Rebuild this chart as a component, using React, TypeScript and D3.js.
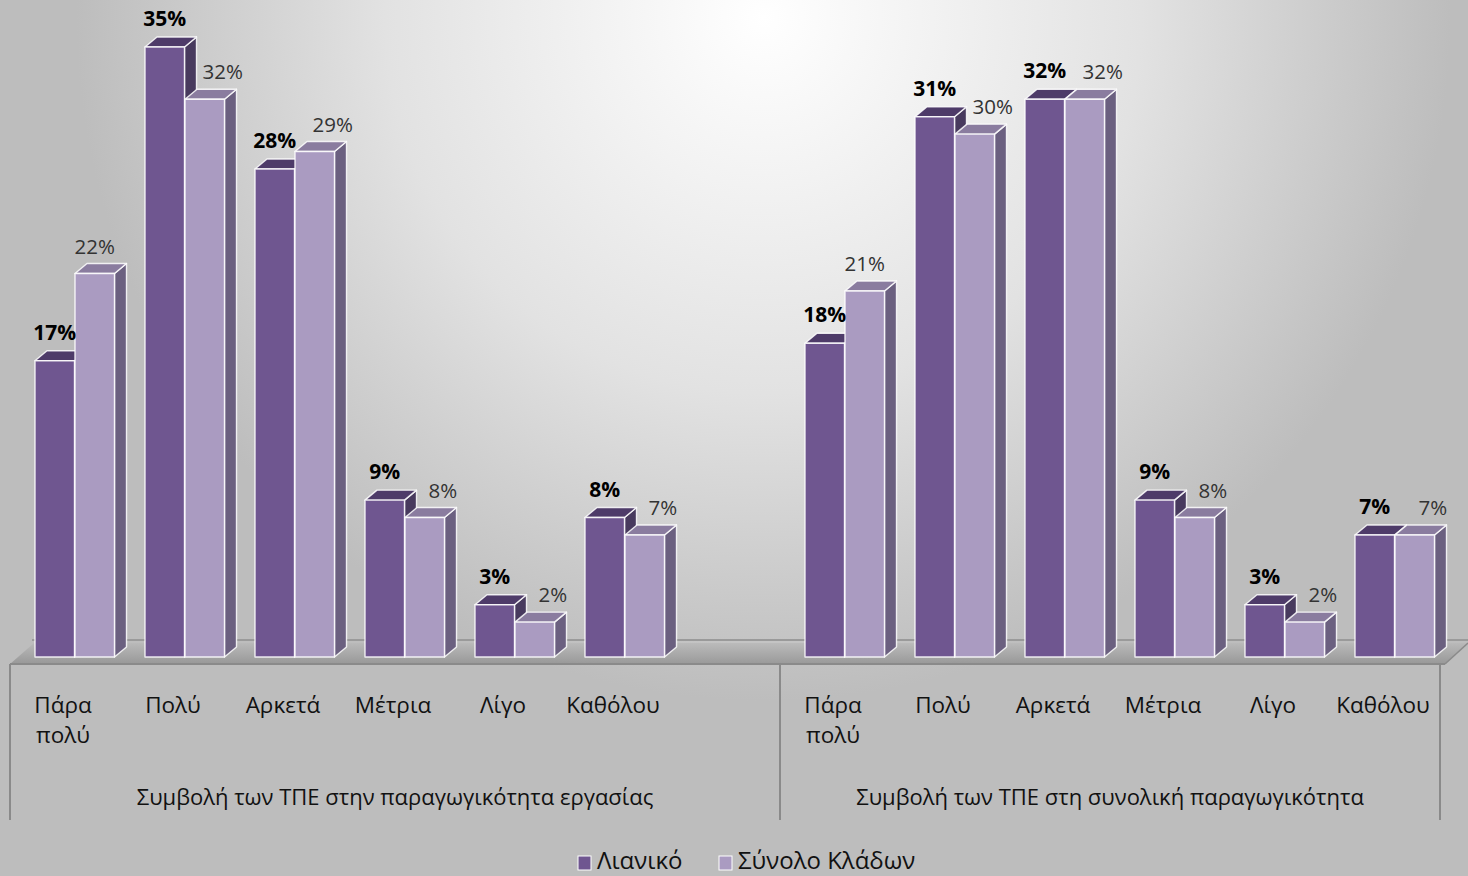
import React from 'react';
import * as d3 from 'd3';

// categories (same six answers in both groups)
const categories = ['Πάρα πολύ', 'Πολύ', 'Αρκετά', 'Μέτρια', 'Λίγο', 'Καθόλου'];
const groups = [
  'Συμβολή των ΤΠΕ στην παραγωγικότητα εργασίας',
  'Συμβολή των ΤΠΕ στη συνολική παραγωγικότητα',
];
const seriesNames = ['Λιανικό', 'Σύνολο Κλάδων'];

// values in %, group 1 then group 2
const lianiko = [
  [17, 35, 28, 9, 3, 8],
  [18, 31, 32, 9, 3, 7],
];
const synolo = [
  [22, 32, 29, 8, 2, 7],
  [21, 30, 32, 8, 2, 7],
];

const W = 1468;
const H = 876;
const base = 657;
const DX = 12;
const DY = 10;

const palette = [
  { front: '#6f5690', top: '#4e3b69', side: '#483a5e' },
  { front: '#aa9bc1', top: '#8a7c9f', side: '#6b6080' },
];

// 13 slots: 6 + empty + 6
const slotKeys = [
  ...categories.map((c, i) => `a${i}`),
  'gap',
  ...categories.map((c, i) => `b${i}`),
];

const App = () => {
  const x = d3.scaleBand<string>().domain(slotKeys).range([10, 1440]).padding(0);
  const y = d3.scaleLinear().domain([0, 35]).range([base, 47]);
  const bw = 39.5;

  const bar3d = (x0: number, v: number, c: typeof palette[0], key: string) => {
    const t = y(v);
    const top = `${x0},${t} ${x0 + DX},${t - DY} ${x0 + bw + DX},${t - DY} ${x0 + bw},${t}`;
    const side = `${x0 + bw},${t} ${x0 + bw + DX},${t - DY} ${x0 + bw + DX},${base - DY} ${x0 + bw},${base}`;
    return (
      <g key={key} stroke="rgba(255,255,255,0.85)" strokeWidth={1.4} strokeLinejoin="round">
        <polygon points={side} fill={c.side} />
        <polygon points={top} fill={c.top} />
        <rect x={x0} y={t} width={bw} height={base - t} fill={c.front} />
      </g>
    );
  };

  const groupSpan = (g: number) => {
    const first = x(g === 0 ? 'a0' : 'b0')!;
    const last = g === 0 ? x('gap')! + x.bandwidth() : x('b5')! + x.bandwidth();
    return [first, last];
  };

  const font = "'Open Sans', 'Noto Sans', sans-serif";

  return (
    <div style={{ position: 'absolute', left: 0, top: 0, width: W, height: H }}>
      <style>{`body{margin:0}`}</style>
      <svg width={W} height={H} style={{ display: 'block', fontFamily: font }}>
        <defs>
          <radialGradient id="bg" cx="0.52" cy="0.02" r="0.78" gradientUnits="objectBoundingBox"
            gradientTransform="translate(0.52,0.02) scale(0.6,1) translate(-0.52,-0.02)">
            <stop offset="0%" stopColor="#ffffff" />
            <stop offset="55%" stopColor="#e2e2e2" />
            <stop offset="100%" stopColor="#bdbdbd" />
          </radialGradient>
          <linearGradient id="floor" x1="0" y1="0" x2="0" y2="1">
            <stop offset="0%" stopColor="#b8b8b8" />
            <stop offset="100%" stopColor="#8c8c8c" />
          </linearGradient>
        </defs>
        <rect width={W} height={H} fill="url(#bg)" />

        {/* back wall base line and floor */}
        <line x1={32} x2={W} y1={640} y2={640} stroke="#9a9a9a" strokeWidth={2} />
        <polygon points={`10,664 34,643 ${W},643 1445,664`} fill="url(#floor)" opacity={0.75} />
        <line x1={10} x2={1445} y1={664} y2={664} stroke="#8a8a8a" strokeWidth={2} />
        <line x1={1445} x2={W} y1={664} y2={643} stroke="#8a8a8a" strokeWidth={1.5} />

        {/* category box lines */}
        {[10, x('gap')! + x.bandwidth(), 1440].map((lx, i) => (
          <line key={i} x1={lx} x2={lx} y1={664} y2={820} stroke="#8a8a8a" strokeWidth={2} />
        ))}

        {/* bars */}
        {[0, 1].map(g =>
          categories.map((c, i) => {
            const x0 = x(`${g === 0 ? 'a' : 'b'}${i}`)! + 25;
            return (
              <g key={`${g}-${i}`}>
                {bar3d(x0, lianiko[g][i], palette[0], 'l')}
                {bar3d(x0 + 40, synolo[g][i], palette[1], 's')}
              </g>
            );
          })
        )}

        {/* value labels */}
        {[0, 1].map(g =>
          categories.map((c, i) => {
            const x0 = x(`${g === 0 ? 'a' : 'b'}${i}`)! + 25;
            const lv = lianiko[g][i];
            const sv = synolo[g][i];
            const shift = sv <= lv + 1 ? 18 : 0;
            return (
              <g key={`lab-${g}-${i}`}>
                <text x={x0 + bw / 2} y={y(lv) - 21} textAnchor="middle"
                  fontSize={21} fontWeight={700} fill="#000">{lv}%</text>
                <text x={x0 + 40 + bw / 2 + shift} y={y(sv) - 20} textAnchor="middle"
                  fontSize={20.5} fill="#333">{sv}%</text>
              </g>
            );
          })
        )}

        {/* category labels */}
        {[0, 1].map(g =>
          categories.map((c, i) => {
            const cx = x(`${g === 0 ? 'a' : 'b'}${i}`)! + x.bandwidth() / 2 - 2;
            const lines = c.split(' ');
            return (
              <text key={`cat-${g}-${i}`} textAnchor="middle" fontSize={22.5} fill="#111">
                {lines.map((l, k) => (
                  <tspan key={k} x={cx} y={713 + k * 30}>{l}</tspan>
                ))}
              </text>
            );
          })
        )}

        {/* group labels */}
        {groups.map((gl, g) => {
          const [a, b] = groupSpan(g);
          return (
            <text key={gl} x={(a + b) / 2} y={805} textAnchor="middle" fontSize={22} fill="#111">{gl}</text>
          );
        })}

        {/* legend */}
        <g fontSize={24} fill="#111">
          <rect x={578} y={856} width={13} height={14} fill={palette[0].front} stroke="#fff" strokeWidth={1} />
          <text x={597} y={869}>{seriesNames[0]}</text>
          <rect x={719} y={856} width={13} height={14} fill={palette[1].front} stroke="#fff" strokeWidth={1} />
          <text x={738} y={869}>{seriesNames[1]}</text>
        </g>
      </svg>
    </div>
  );
};

export default App;
